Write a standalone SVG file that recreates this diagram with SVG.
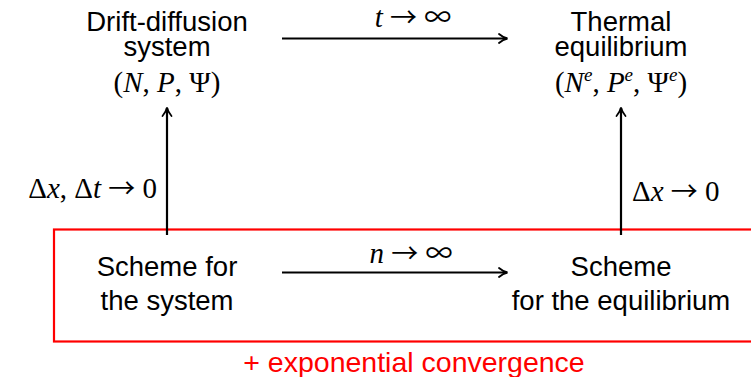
<svg xmlns="http://www.w3.org/2000/svg" width="751" height="377" viewBox="0 0 751 377">
<style>
.s{font-family:"Liberation Sans",Arial,sans-serif;font-size:27.5px;fill:#000;text-anchor:middle}
.m{font-family:"Liberation Serif","DejaVu Serif",serif;font-size:29px;fill:#000}
.i{font-style:italic}
.a{font-family:"Noto Sans CJK SC",sans-serif;font-size:27px}
.e{font-size:19px;font-style:italic}
.c{stroke:#000;stroke-width:2.2;fill:none}
</style>
<defs>
<marker id="ah" viewBox="0 0 12 12" refX="10" refY="6" markerWidth="12" markerHeight="12" markerUnits="userSpaceOnUse" orient="auto">
<path d="M2,1.5 Q6,5 10.5,6 Q6,7 2,10.5" fill="none" stroke="#000" stroke-width="1.8" stroke-linecap="round"/>
</marker>
</defs>
<rect x="54" y="229.5" width="720" height="112" fill="none" stroke="#ff0000" stroke-width="2.2"/>
<g id="connectors">
<line class="c" x1="282" y1="38.5" x2="507" y2="38.5" marker-end="url(#ah)"/>
<line class="c" x1="282" y1="272.5" x2="507" y2="272.5" marker-end="url(#ah)"/>
<line class="c" x1="167" y1="235" x2="167" y2="108" marker-end="url(#ah)"/>
<line class="c" x1="621" y1="235" x2="621" y2="108" marker-end="url(#ah)"/>
<text class="m" x="413" y="27" text-anchor="middle"><tspan class="i">t</tspan> <tspan class="a">→</tspan> <tspan class="a">∞</tspan></text>
<text class="m" x="411" y="263" text-anchor="middle"><tspan class="i">n</tspan> <tspan class="a">→</tspan> <tspan class="a">∞</tspan></text>
<text class="m" x="157" y="198" text-anchor="end">Δ<tspan class="i">x</tspan>, Δ<tspan class="i">t</tspan> <tspan class="a">→</tspan> 0</text>
<text class="m" x="632" y="201">Δ<tspan class="i">x</tspan> <tspan class="a">→</tspan> 0</text>
</g>
<g id="dd">
<text class="s" x="167" y="31">Drift-diffusion</text>
<text class="s" x="167" y="56">system</text>
<text class="m" x="167" y="92" text-anchor="middle">(<tspan class="i">N</tspan>, <tspan class="i">P</tspan>, Ψ)</text>
</g>
<g id="te">
<text class="s" x="621" y="31">Thermal</text>
<text class="s" x="621" y="56">equilibrium</text>
<text class="m" x="621" y="92" text-anchor="middle">(<tspan class="i">N</tspan><tspan class="e" dy="-11">e</tspan><tspan dy="11">, </tspan><tspan class="i">P</tspan><tspan class="e" dy="-11">e</tspan><tspan dy="11">, Ψ</tspan><tspan class="e" dy="-11">e</tspan><tspan dy="11">)</tspan></text>
</g>
<g id="ss">
<text class="s" x="167" y="276">Scheme for</text>
<text class="s" x="167" y="310">the system</text>
</g>
<g id="se">
<text class="s" x="621" y="276">Scheme</text>
<text class="s" x="621" y="310">for the equilibrium</text>
</g>
<text class="s" x="414" y="372" style="fill:#ff0000;font-size:28.5px">+ exponential convergence</text>
</svg>
